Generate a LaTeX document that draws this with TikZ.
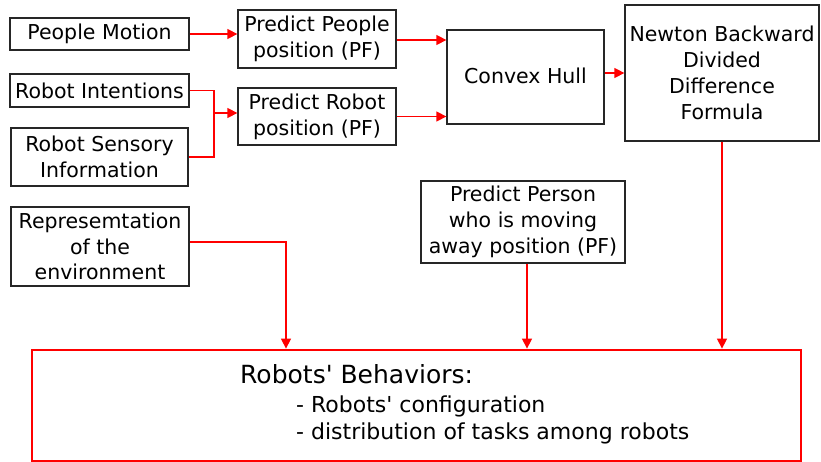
\documentclass[tikz,border=0pt]{standalone}
\usepackage{fontspec}
\setmainfont{DejaVu Sans}[Ligatures=TeXOff]
\usetikzlibrary{arrows.meta,calc}
\begin{document}
\begin{tikzpicture}[x=1pt,y=-1pt,
  box/.style={draw=black!85,line width=1.3pt,inner sep=0pt,align=center,
    font=\fontsize{20.5}{25.8}\selectfont},
  conn/.style={draw=red,line width=1.4pt},
  arr/.style={conn,-{Triangle[length=10pt,width=10pt]}}]
\useasboundingbox (0,0) rectangle (821,462);
\node[box,minimum width=179pt,minimum height=32pt] (pm) at (99.5,34) {People Motion};
\node[box,minimum width=158pt,minimum height=58pt] (pp) at (317,39) {Predict People\\position (PF)};
\node[box,minimum width=179pt,minimum height=33pt] (ri) at (99.5,90.5) {Robot Intentions};
\node[box,minimum width=177pt,minimum height=58pt] (rs) at (99.5,157) {Robot Sensory\\Information};
\node[box,minimum width=158pt,minimum height=57pt] (pr) at (317,116.5) {Predict Robot\\position (PF)};
\node[box,minimum width=157pt,minimum height=94pt] (ch) at (525.5,77) {\raisebox{3pt}{Convex Hull}};
\node[box,minimum width=194pt,minimum height=136pt] (nb) at (722,73) {Newton Backward\\Divided\\Difference\\Formula};
\node[box,minimum width=204pt,minimum height=82pt] (pw) at (523,222) {Predict Person\\who is moving\\away position (PF)};
\node[box,minimum width=178pt,minimum height=79pt] (re) at (100,246.5) {Represemtation\\of the\\environment};
\node[draw=red,line width=2.8pt,minimum width=769pt,minimum height=111pt,inner sep=0pt] (bb) at (416.5,405.5) {};
\node[anchor=base west,inner sep=0pt,font=\fontsize{25}{30}\selectfont] (t1) at (240,383) {Robots' Behaviors:};
\node[anchor=base west,inner sep=0pt,font=\fontsize{22}{26}\selectfont] (t2) at (296,412) {- Robots' configuration};
\node[anchor=base west,inner sep=0pt,font=\fontsize{22}{26}\selectfont] (t3) at (296,439) {- distribution of tasks among robots};
\coordinate (j) at (214,113);
\coordinate (ra) at (286,242);
\draw[arr] (pm.east) -- (pm.east -| pp.west);
\draw[conn] (ri.east) -| (j) |- (rs.east);
\draw[arr] (j) -- (j -| pr.west);
\draw[arr] ([yshift=-1pt]pp.east) -- ([yshift=-1pt]pp.east -| ch.west);
\draw[arr] (pr.east) -- (pr.east -| ch.west);
\draw[arr] (nb.west -| ch.east) -- (nb.west);
\draw[arr] (nb.south) -- (nb.south |- bb.north);
\draw[arr] ([xshift=4pt]pw.south) -- ([xshift=4pt]pw.south |- bb.north);
\draw[arr] (re.east |- ra) -- (ra) -- (ra |- bb.north);
\end{tikzpicture}
\end{document}
